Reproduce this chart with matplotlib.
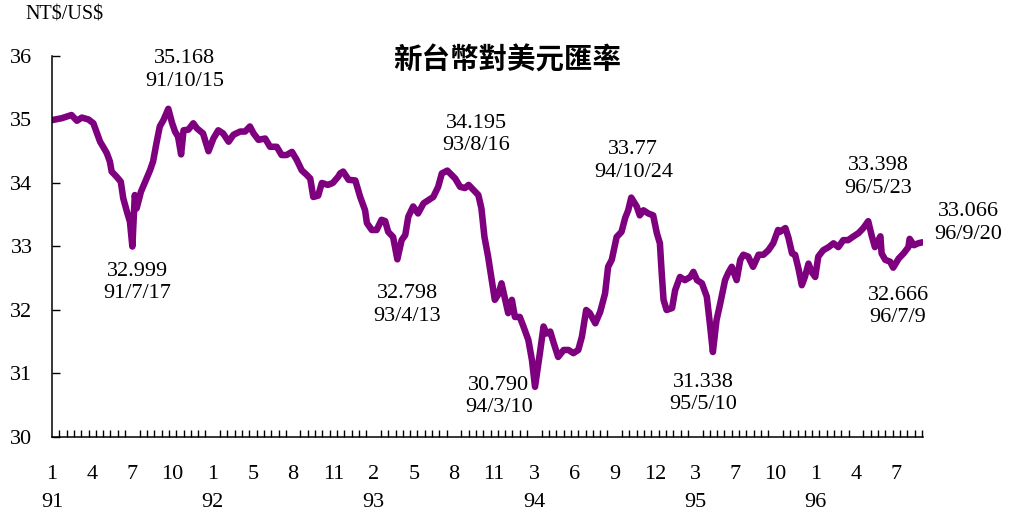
import matplotlib
matplotlib.use("Agg")
import matplotlib.pyplot as plt
from matplotlib.ticker import FixedLocator, MultipleLocator, NullFormatter

# Daily NT$/US$ closing rate, sampled by trading-day number (0 = 2002-01-02, ROC 91/1/2)
day = [0, 16, 32, 41, 49, 60, 68, 73, 79, 84, 90, 95, 98, 106, 113, 117, 123, 128,
       136, 139, 146, 153, 161, 166, 172, 177, 183, 197, 202, 207, 212, 216, 224, 232,
       238, 248, 257, 265, 273, 281, 290, 298, 309, 317, 325, 331, 339, 350, 358, 369,
       377, 385, 394, 402, 410, 418, 424, 429, 437, 443, 453, 461, 470, 473, 478, 487,
       498, 506, 514, 517, 525, 533, 541, 547, 552, 560, 574, 580, 585, 593, 601, 610,
       618, 626, 634, 640, 662, 670, 678, 684, 692, 700, 705, 710, 716, 722, 727, 733,
       738, 744, 749, 755, 760, 768, 774, 782, 788, 801, 807, 812, 818, 823, 831, 840,
       848, 856, 864, 870, 877, 883, 892, 900, 908, 913, 919, 927, 935, 941, 946, 960,
       965, 971, 979, 987, 993, 998, 1001, 1004, 1009, 1018, 1023, 1031, 1039, 1048,
       1053, 1059, 1067, 1075, 1080, 1091, 1097, 1105, 1110, 1116, 1124, 1130, 1135,
       1143, 1151, 1160, 1168, 1176, 1184, 1192, 1195, 1204, 1209, 1215, 1220, 1226,
       1231, 1236, 1242, 1247, 1253, 1258, 1266, 1275, 1283, 1291, 1299, 1307, 1316,
       1324, 1332, 1346, 1351, 1360, 1362, 1368, 1376, 1390, 1398, 1406, 1408, 1415,
       1422]
rate = [34.99, 35.02, 35.07, 34.98, 35.03, 35.00, 34.94, 34.81, 34.65, 34.57, 34.47,
        34.34, 34.18, 34.10, 34.02, 33.76, 33.55, 33.39, 33.81, 33.60, 33.86, 34.02,
        34.20, 34.34, 34.65, 34.89, 34.99, 34.95, 34.81, 34.73, 34.45, 34.83, 34.84,
        34.94, 34.86, 34.78, 34.50, 34.70, 34.83, 34.78, 34.65, 34.76, 34.81, 34.81,
        34.89, 34.78, 34.68, 34.70, 34.57, 34.57, 34.44, 34.44, 34.49, 34.36, 34.20,
        34.13, 34.07, 33.78, 33.80, 34.00, 33.97, 34.00, 34.10, 34.15, 34.18, 34.05,
        34.04, 33.78, 33.57, 33.37, 33.26, 33.26, 33.42, 33.40, 33.23, 33.15, 33.10,
        33.18, 33.47, 33.63, 33.52, 33.68, 33.73, 33.78, 33.94, 34.15, 34.07, 33.94,
        33.92, 33.97, 33.89, 33.81, 33.60, 33.15, 32.84, 32.47, 32.16, 32.25, 32.42,
        32.16, 31.95, 32.16, 31.89, 31.89, 31.74, 31.53, 31.21, 31.32, 31.74, 31.63,
        31.66, 31.50, 31.26, 31.37, 31.37, 31.32, 31.37, 31.58, 32.00, 31.95, 31.79,
        31.97, 32.26, 32.68, 32.79, 33.15, 33.23, 33.45, 33.57, 33.63, 33.49, 33.57,
        33.52, 33.49, 33.21, 33.05, 32.58, 32.16, 32.00, 32.03, 32.31, 32.52, 32.47,
        32.52, 32.60, 32.47, 32.42, 32.21, 31.79, 31.84, 32.10, 32.47, 32.58, 32.68,
        32.47, 32.79, 32.87, 32.84, 32.68, 32.87, 32.87, 32.94, 33.05, 33.26, 33.23,
        33.29, 33.14, 32.89, 32.87, 32.63, 32.39, 32.52, 32.73, 32.60, 32.52, 32.84,
        32.94, 32.99, 33.05, 32.99, 33.10, 33.10, 33.16, 33.21, 33.29, 33.16, 32.99,
        33.16, 32.89, 32.79, 32.76, 32.81, 32.89, 32.99, 33.12, 33.02, 33.05]

# Highs, lows and the latest close that get a label
mark_day = [132, 191, 567, 649, 793, 951, 1085, 1340, 1381, 1429]
mark_date = ["91/7/17", "91/10/15", "93/4/13", "93/8/16", "94/3/10", "94/10/24",
             "95/5/10", "96/5/23", "96/7/9", "96/9/20"]
mark_value = ["32.999", "35.168", "32.798", "34.195", "30.790", "33.77",
              "31.338", "33.398", "32.666", "33.066"]
# label offset from its point, in points
mark_offset = [(3.5, -26), (12, 28), (7, -33), (21, 26), (-26, -7), (1.5, 26.5),
               (-7, -30), (7, 32), (3.5, -28), (33, 14)]

# Month labels every 66 trading days, with the ROC year under the first month of each year
month_labels = ["1", "4", "7", "10", "1", "5", "8", "11", "2", "5", "8", "11",
                "3", "6", "9", "12", "3", "7", "10", "1", "4", "7"]
year_labels = {0: "91", 4: "92", 8: "93", 12: "94", 16: "95", 19: "96"}
label_step = 66
minor_step = 12

yticks = [30, 31, 32, 33, 34, 35, 36]

serif = ["Liberation Serif", "DejaVu Serif"]
plt.rcParams["font.family"] = serif
plt.rcParams["font.size"] = 16

# merge the labelled points into the sampled series
pts = sorted(list(zip(day, rate)) + [(d, float(v)) for d, v in zip(mark_day, mark_value)])
xs = [p[0] for p in pts]
ys = [p[1] for p in pts]

fig = plt.figure(figsize=(10.09, 5.15), dpi=100)
ax = fig.add_axes([0.0515, 0.1515, 0.8633, 0.7398])

purple = "#7f007f"
ax.plot(xs, ys, color=purple, lw=4.7, solid_joinstyle="round", solid_capstyle="round")

ax.set_xlim(0, 1430)
ax.set_ylim(30, 36)

for s in ("top", "right"):
    ax.spines[s].set_visible(False)
for s in ("left", "bottom"):
    ax.spines[s].set_linewidth(1.1)
    ax.spines[s].set_color("black")

ax.set_yticks(yticks)
ax.set_yticklabels([str(t) for t in yticks])
ax.tick_params(axis="y", direction="in", length=6, width=1.0, pad=14, labelsize=16)

pos = [i * label_step for i in range(len(month_labels))]
texts = []
for i, m in enumerate(month_labels):
    texts.append(m + ("\n" + year_labels[i] if i in year_labels else ""))
ax.xaxis.set_major_locator(FixedLocator(pos))
ax.set_xticklabels(texts, linespacing=1.65)
ax.xaxis.set_minor_locator(MultipleLocator(minor_step))
ax.xaxis.set_minor_formatter(NullFormatter())
ax.tick_params(axis="x", which="major", length=0, pad=20, labelsize=16)
ax.tick_params(axis="x", which="minor", direction="in", length=5, width=1.0)

for d, v, lab, off in zip(mark_day, mark_value, mark_date, mark_offset):
    ax.annotate(v + "\n" + lab, xy=(d, float(v)), xytext=off,
                textcoords="offset points", ha="center", va="center",
                fontsize=16, linespacing=1.25)

fig.text(0.025, 0.971, "NT$/US$", ha="left", va="center", fontsize=14.5,
         parse_math=False)
fig.text(0.5025, 0.8835, "新台幣對美元匯率", ha="center", va="center",
         fontsize=20.5, fontweight="bold",
         family=["Noto Sans CJK TC", "DejaVu Sans"])

fig.savefig("out.png", dpi=100)
